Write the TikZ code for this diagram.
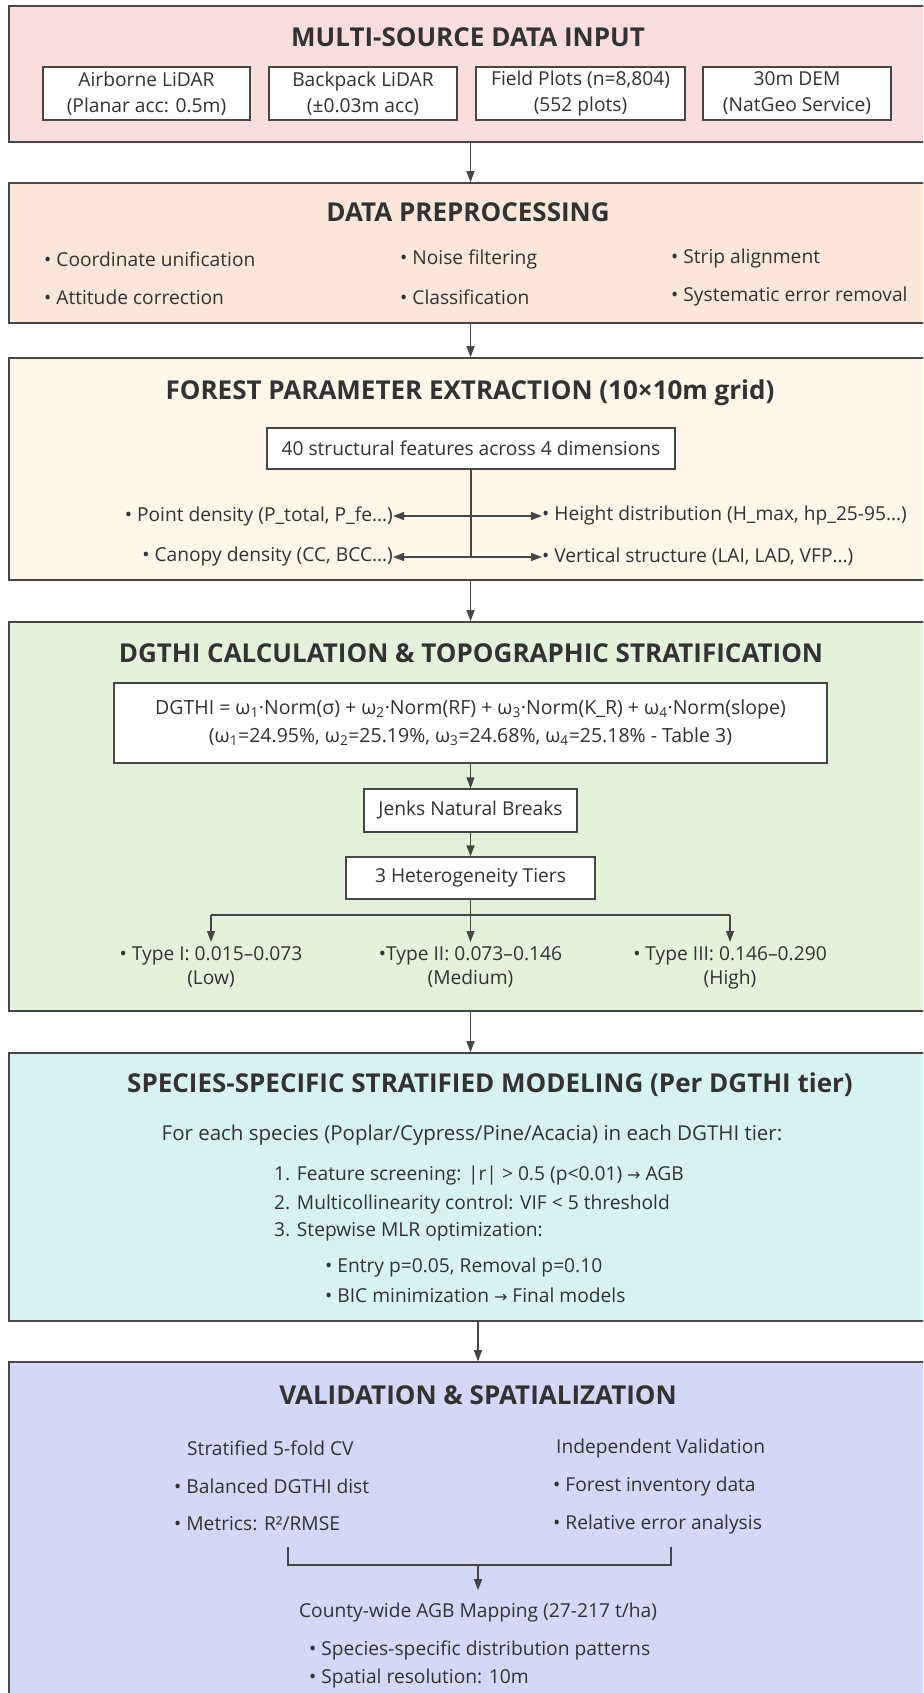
\documentclass[tikz,border=0pt]{standalone}
\usepackage{fontspec}
\setmainfont{Open Sans}
\newfontfamily\symfont{DejaVu Sans}
\usetikzlibrary{arrows.meta, positioning}

\definecolor{inputbg}{RGB}{250,221,221}
\definecolor{prepbg}{RGB}{250,231,217}
\definecolor{extrbg}{RGB}{253,246,233}
\definecolor{dgthibg}{RGB}{227,243,219}
\definecolor{modelbg}{RGB}{216,242,243}
\definecolor{validbg}{RGB}{210,216,246}
\definecolor{edge}{RGB}{70,70,70}
\definecolor{ink}{RGB}{50,50,50}

\newcommand{\bodyfont}{\fontsize{19.2}{26}\selectfont}
\newcommand{\headfont}{\fontsize{26}{30}\selectfont\bfseries}
\newcommand{\arrowsym}{{\symfont\fontsize{16}{16}\selectfont →}}

\tikzset{
	panel/.style={draw=edge, line width=1.6pt, rectangle, inner sep=0pt},
	title/.style={font=\headfont, text=ink},
	box/.style={draw=edge, line width=1.3pt, fill=white, align=center, inner sep=0pt, font=\bodyfont, text=ink},
	txt/.style={font=\bodyfont, text=ink, inner sep=0pt},
	tier/.style={txt, align=center, anchor=north, inner ysep=4pt, font=\fontsize{19.2}{24}\selectfont},
	link/.style={draw=edge, line width=1.3pt},
	flow/.style={link, -{Triangle[length=11pt,width=8pt]}},
	twoway/.style={link, {Triangle[length=11pt,width=8pt]}-{Triangle[length=11pt,width=8pt]}},
}

\begin{document}
\begin{tikzpicture}[x=1pt, y=-1pt]
		\useasboundingbox (0,0) rectangle (923,1693);
		\clip (0,0) rectangle (923,1693);
		
		% Draw the stage panels
		\node[panel, fill=inputbg, minimum width=923pt, minimum height=136pt] (input) at (470.5,74) {};
		\node[panel, fill=prepbg, minimum width=923pt, minimum height=140pt] (prep) at (470.5,253) {};
		\node[panel, fill=extrbg, minimum width=923pt, minimum height=222pt] (extr) at (470.5,469) {};
		\node[panel, fill=dgthibg, minimum width=923pt, minimum height=389pt] (dgthi) at (470.5,816.5) {};
		\node[panel, fill=modelbg, minimum width=962pt, minimum height=268pt] (model) at (490,1187) {};
		\node[panel, fill=validbg, minimum width=938pt, minimum height=400pt] (valid) at (478,1562) {};
		
		% Arrows between the stages
		\draw[flow] (input.south) -- (prep.north);
		\draw[flow] (prep.south) -- (extr.north);
		\draw[flow] (extr.south) -- (dgthi.north);
		\draw[flow] (dgthi.south) -- (dgthi.south |- model.north);
		\draw[flow] (model.south -| valid.north) -- (valid.north);
		
		% Multi-source data input
		\node[title] (inputtitle) at (468,37) {MULTI-SOURCE DATA INPUT};
		\node[box, minimum width=207pt, minimum height=53pt] (airborne) at (146.5,93.5) {Airborne LiDAR\\(Planar acc: 0.5m)};
		\node[box, minimum width=188pt, minimum height=53pt] (backpack) at (363,93.5) {Backpack LiDAR\\(±0.03m acc)};
		\node[box, minimum width=209pt, minimum height=53pt] (plots) at (580.5,93.5) {Field Plots (n=8,804)\\(552 plots)};
		\node[box, minimum width=188pt, minimum height=53pt] (dem) at (797,93.5) {30m DEM\\(NatGeo Service)};
		
		% Data preprocessing
		\node[title] (preptitle) at (468,212) {DATA PREPROCESSING};
		\node[txt, anchor=west] (coord) at (44,259) {• Coordinate unification};
		\node[txt, anchor=west] (attitude) at (44,297) {• Attitude correction};
		\node[txt, anchor=west] (noise) at (400,259) {• Noise filtering};
		\node[txt, anchor=west] (classif) at (400,297) {• Classification};
		\node[txt, anchor=west] (strip) at (671,259) {• Strip alignment};
		\node[txt, anchor=west] (syserr) at (671,297) {• Systematic error removal};
		
		% Forest parameter extraction
		\node[title] (extrtitle) at (470,393) {FOREST PARAMETER EXTRACTION (10×10m grid)};
		\node[box, minimum width=408pt, minimum height=41pt] (features) at (471,448.5) {40 structural features across 4 dimensions};
		\node[txt, anchor=east] (pointd) at (393,516) {• Point density (P\_total, P\_fe…)};
		\node[txt, anchor=east] (canopyd) at (393,557) {• Canopy density (CC, BCC…)};
		\node[txt, anchor=west] (heightd) at (542,516) {• Height distribution (H\_max, hp\_25-95…)};
		\node[txt, anchor=west] (vertical) at (542,557) {• Vertical structure (LAI, LAD, VFP…)};
		\coordinate (stem) at (471,556);
		\draw[link] (features.south) -- (stem);
		\draw[twoway] (pointd.east) -- (heightd.west);
		\draw[twoway] (canopyd.east) -- (vertical.west);
		
		% DGTHI calculation and tiers
		\node[title] (dgthititle) at (471,653) {DGTHI CALCULATION \& TOPOGRAPHIC STRATIFICATION};
		\node[box, minimum width=713pt, minimum height=80pt, font=\fontsize{19.5}{28}\selectfont] (formula) at (470.5,723)
			{DGTHI = ω\textsubscript{1}·Norm(σ) + ω\textsubscript{2}·Norm(RF) + ω\textsubscript{3}·Norm(K\_R) + ω\textsubscript{4}·Norm(slope)\\
			(ω\textsubscript{1}=24.95\%, ω\textsubscript{2}=25.19\%, ω\textsubscript{3}=24.68\%, ω\textsubscript{4}=25.18\% - Table 3)};
		\node[box, minimum width=213pt, minimum height=43pt] (jenks) at (470.5,810.5) {Jenks Natural Breaks};
		\node[box, minimum width=249pt, minimum height=42pt] (tiers) at (470.5,878) {3 Heterogeneity Tiers};
		\draw[flow] (formula.south) -- (jenks.north);
		\draw[flow] (jenks.south) -- (tiers.north);
		
		\node[tier] (typeI) at (211,942) {• Type I: 0.015–0.073\\(Low)};
		\node[tier] (typeII) at (470.5,942) {•Type II: 0.073–0.146\\(Medium)};
		\node[tier] (typeIII) at (730,942) {• Type III: 0.146–0.290\\(High)};
		\coordinate (split) at (470.5,915);
		\draw[link] (tiers.south) -- (split);
		\draw[link] (typeI.north |- split) -- (typeIII.north |- split);
		\draw[flow] (typeI.north |- split) -- (typeI.north);
		\draw[flow] (split) -- (typeII.north);
		\draw[flow] (typeIII.north |- split) -- (typeIII.north);
		
		% Species-specific modeling
		\node[title] (modeltitle) at (490,1085) {SPECIES-SPECIFIC STRATIFIED MODELING (Per DGTHI tier)};
		\node[txt, font=\fontsize{20.5}{26}\selectfont] (foreach) at (472,1135) {For each species (Poplar/Cypress/Pine/Acacia) in each DGTHI tier:};
		\node[txt, anchor=west] (step1) at (274,1176) {1. Feature screening: |r| > 0.5 (p<0.01) \arrowsym{} AGB};
		\node[txt, anchor=west] (step2) at (274,1204) {2. Multicollinearity control: VIF < 5 threshold};
		\node[txt, anchor=west] (step3) at (274,1232) {3. Stepwise MLR optimization:};
		\node[txt, anchor=west] (entry) at (325,1267) {• Entry p=0.05, Removal p=0.10};
		\node[txt, anchor=west] (bic) at (325,1295) {• BIC minimization \arrowsym{} Final models};
		
		% Validation and spatialization
		\node[title] (validtitle) at (478,1395) {VALIDATION \& SPATIALIZATION};
		\node[txt, anchor=west] (cv) at (187,1448) {Stratified 5-fold CV};
		\node[txt, anchor=west] (balanced) at (174,1486) {• Balanced DGTHI dist};
		\node[txt, anchor=west] (metrics) at (174,1524) {• Metrics: R²/RMSE};
		\node[txt, anchor=west] (indep) at (556,1448) {Independent Validation};
		\node[txt, anchor=west] (inventory) at (553,1486) {• Forest inventory data};
		\node[txt, anchor=west] (relerr) at (553,1524) {• Relative error analysis};
		
		\coordinate (cvfoot) at (288,1547);
		\coordinate (indfoot) at (671,1547);
		\coordinate (join) at (478,1565);
		\draw[link] (cvfoot) |- (join) -| (indfoot);
		\node[txt, inner ysep=12pt] (mapping) at (478,1612) {County-wide AGB Mapping (27-217 t/ha)};
		\draw[flow] (join) -- (mapping.north);
		\node[txt, anchor=west] (patterns) at (309,1650) {• Species-specific distribution patterns};
		\node[txt, anchor=west] (resol) at (309,1678) {• Spatial resolution: 10m};
\end{tikzpicture}
\end{document}
